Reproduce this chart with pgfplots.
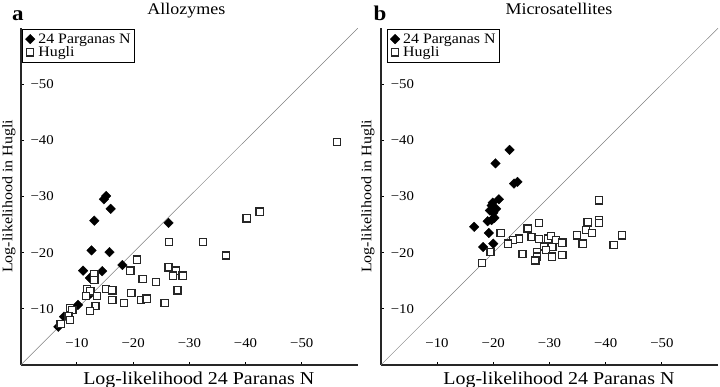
\documentclass[border=0pt]{standalone}
\usepackage{pgfplots}
\pgfplotsset{compat=1.18}
\usepackage{pgfplotstable}
\usepackage{fontspec}
\setmainfont{Liberation Serif}[FakeStretch=1.1]

\pgfplotstableread{
x y
-15.2 -30.1
-14.8 -29.5
-16.0 -27.8
-13.1 -25.7
-26.3 -25.3
-12.6 -20.4
-15.8 -20.1
-11.1 -16.8
-14.5 -16.7
-18.1 -17.8
-12.3 -15.5
-12.4 -12.7
-10.2 -10.7
-9.3 -10.0
-7.7 -8.6
-6.7 -6.8
}\Adiam

\pgfplotstableread{
x y
-56.3 -39.7
-42.5 -27.3
-40.2 -26.1
-26.4 -21.9
-32.4 -21.9
-36.5 -19.5
-20.7 -18.75
-19.5 -16.8
-26.3 -17.4
-27.6 -16.8
-27.1 -15.9
-28.8 -15.9
-21.7 -15.3
-24.1 -14.8
-27.9 -13.3
-19.7 -12.8
-16.3 -11.6
-15.2 -13.5
-16.3 -13.3
-21.4 -11.6
-22.4 -11.8
-18.4 -11.0
-25.6 -11.0
-13.1 -16.2
-13.1 -15.1
-11.8 -13.5
-12.4 -13.1
-11.6 -12.3
-13.6 -12.3
-13.3 -10.5
-12.3 -9.6
-8.8 -10.1
-9.2 -9.8
-8.5 -8.75
-8.8 -8.0
-7.1 -7.3
}\Asq

\pgfplotstableread{
x y
-22.9 -38.3
-20.4 -35.9
-23.7 -32.3
-24.3 -32.6
-21.0 -29.5
-19.9 -28.9
-19.7 -28.4
-20.5 -27.8
-19.4 -27.5
-20.0 -27.1
-20.2 -26.2
-19.7 -25.8
-19.0 -25.6
-16.6 -24.6
-19.2 -23.5
-18.2 -21.0
-20.0 -21.6
}\Bdiam

\pgfplotstableread{
x y
-38.8 -29.3
-38.8 -25.8
-38.8 -25.3
-36.8 -25.4
-36.5 -24.0
-37.6 -23.5
-34.9 -23.1
-35.9 -21.6
-42.9 -23.1
-41.4 -21.4
-28.1 -25.3
-26.1 -24.3
-21.3 -23.5
-26.8 -22.8
-24.6 -22.5
-23.5 -22.3
-28.1 -22.4
-29.7 -22.5
-30.3 -23.0
-31.2 -22.3
-32.3 -21.8
-30.5 -21.0
-29.1 -21.1
-29.4 -20.5
-22.6 -21.6
-25.2 -19.8
-27.8 -20.1
-27.8 -19.3
-27.5 -18.6
-30.4 -19.3
-32.3 -19.6
-19.5 -20.1
-18.0 -18.2
}\Bsq

\pgfplotsset{
  llstyle/.style={
    scale only axis, width=337.3bp, height=337bp,
    xmin=-60, xmax=0, ymin=-60, ymax=0,
    x dir=reverse, y dir=reverse,
    axis lines=left,
    axis line style={-, line width=1.3bp, black!85},
    xtick={-10,-20,-30,-40,-50}, ytick={-10,-20,-30,-40,-50},
    xticklabels={−10,−20,−30,−40,−50},
    yticklabels={−10,−20,−30,−40,−50},
    tick align=inside, major tick length=3bp,
    tick style={line width=0.9bp, black},
    xticklabel style={anchor=center, yshift=21.7bp, font=\fontsize{13.5}{15}\selectfont},
    yticklabel style={anchor=center, xshift=21.5bp, font=\fontsize{13.5}{15}\selectfont},
    title style={anchor=base, font=\fontsize{16.4}{18}\selectfont},
    xlabel style={anchor=base, font=\fontsize{18.2}{20}\selectfont},
    ylabel style={anchor=center, rotate=0, font=\fontsize{14.6}{16}\selectfont},
    xlabel={Log-likelihood 24 Paranas N},
    ylabel={Log-likelihood in Hugli},
    legend cell align=left,
    legend image code/.code={\path (-5bp,0bp) (5.5bp,0bp); \draw[##1] plot coordinates {(0bp,0bp)};},
    legend style={anchor=north west, draw=black, line width=1.2bp,
      inner sep=2bp, row sep=-2bp, column sep=0pt,
      font=\fontsize{14.5}{16}\selectfont},
  },
  diam/.style={only marks, mark=square*, mark size=3.4bp, mark options={rotate=45, fill=black, draw=black, line width=0.3bp}},
  sq/.style={only marks, mark=square*, mark size=3.6bp, mark options={fill=white, draw=black!85, line width=1.3bp}},
}

\begin{document}
\begin{tikzpicture}
\useasboundingbox (0,0) rectangle (720bp,387bp);

\begin{axis}[llstyle,
  at={(189.35bp,190.5bp)}, anchor=center,
  title={Allozymes},
  title style={at={(axis description cs:0.491,1.021)}},
  xlabel style={at={(axis description cs:0.528,-0.0573)}},
  ylabel style={at={(axis description cs:-0.0347,0.5)}},
  legend style={at={(axis description cs:0.004,0.997)}},
  y axis line style={line width=1.9bp},
]
\addplot[gray, line width=0.5bp, forget plot] coordinates {(0,0) (-60,-60)};
\addplot[diam] table {\Adiam};
\addlegendentry{24 Parganas N}
\addplot[sq] table {\Asq};
\addlegendentry{Hugli}
\end{axis}

\begin{axis}[llstyle,
  at={(549.5bp,190.5bp)}, anchor=center,
  title={Microsatellites},
  title style={at={(axis description cs:0.528,1.021)}},
  xlabel style={at={(axis description cs:0.528,-0.0573)}},
  ylabel style={at={(axis description cs:-0.0386,0.5)}},
  legend style={at={(axis description cs:0.018,0.997)}},
]
\addplot[gray, line width=0.5bp, forget plot] coordinates {(0,0) (-60,-60)};
\addplot[diam] table {\Bdiam};
\addlegendentry{24 Parganas N}
\addplot[sq] table {\Bsq};
\addlegendentry{Hugli}
\end{axis}

\node[anchor=base west, font=\fontsize{21}{24}\selectfont\bfseries, inner sep=0pt] at (12bp,366bp) {a};
\node[anchor=base west, font=\fontsize{21}{24}\selectfont\bfseries, inner sep=0pt] at (373.3bp,366bp) {b};
\end{tikzpicture}
\end{document}
